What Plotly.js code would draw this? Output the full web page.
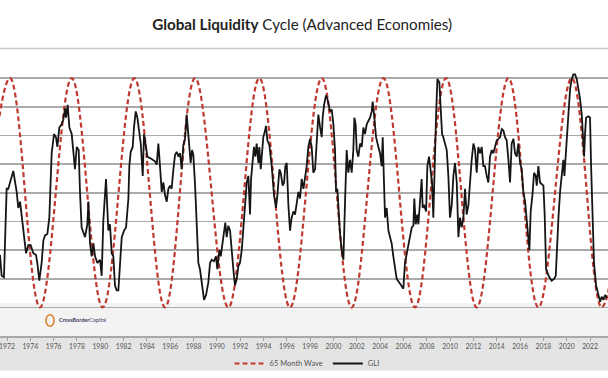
<!DOCTYPE html>
<html>
<head>
<meta charset="utf-8">
<script src="https://cdn.plot.ly/plotly-3.0.1.min.js"></script>
<style>
  html, body { margin: 0; padding: 0; background: #ffffff; }
  #chart { width: 608px; height: 378px; }
</style>
</head>
<body>
<div id="chart"></div>
<script>
// ---- Data ----
const tickYears = [1972,1974,1976,1978,1980,1982,1984,1986,1988,1990,1992,1994,1996,1998,2000,2002,2004,2006,2008,2010,2012,2014,2016,2018,2020,2022];
const tickLabels = tickYears.map(String);

// 65-month wave: turning points (trough / peak)
const waveYears = [1969.58,1972.26,1974.83,1977.55,1980.21,1982.92,1985.55,1988.13,1990.98,1993.64,1996.27,1998.99,2001.56,2004.28,2006.99,2009.65,2012.28,2015.00,2017.57,2020.43,2023.00,2025.70];
const waveValues = [10,90,10,90,10,90,10,90,10,90,10,90,10,90,10,90,10,90,10,90,10,90];

// GLI (Advanced Economies), index
const gliYears = [
1971.40,1971.54,1971.74,1971.97,1972.11,1972.54,1972.83,1972.97,1973.12,1973.26,1973.40,1973.63,1973.83,1974.03,1974.26,1974.49,1974.60,1974.77,1974.97,1975.12,
1975.26,1975.46,1975.63,1975.75,1975.83,1976.03,1976.20,1976.32,1976.49,1976.69,1976.83,1976.98,1977.06,1977.20,1977.35,1977.55,1977.69,1977.83,1977.98,1978.15,
1978.26,1978.40,1978.69,1978.89,1978.98,1979.12,1979.26,1979.41,1979.55,1979.75,1979.98,1980.12,1980.26,1980.49,1980.69,1980.83,1980.98,1981.12,1981.26,1981.41,
1981.55,1981.69,1981.84,1982.04,1982.21,1982.41,1982.49,1982.61,1982.78,1982.89,1983.04,1983.18,1983.35,1983.47,1983.64,1983.75,1983.92,1984.04,1984.27,1984.49,
1984.69,1984.84,1984.98,1985.12,1985.27,1985.41,1985.55,1985.70,1985.84,1985.98,1986.12,1986.27,1986.41,1986.55,1986.70,1986.84,1986.98,1987.12,1987.27,1987.41,
1987.55,1987.64,1987.75,1987.87,1987.98,1988.13,1988.27,1988.41,1988.55,1988.70,1988.84,1988.90,1989.07,1989.27,1989.41,1989.55,1989.75,1989.92,1990.04,1990.21,
1990.33,1990.50,1990.61,1990.72,1990.84,1990.98,1991.13,1991.27,1991.41,1991.55,1991.70,1991.84,1991.98,1992.13,1992.27,1992.41,1992.56,1992.70,1992.84,1992.93,
1993.07,1993.18,1993.30,1993.41,1993.56,1993.64,1993.76,1993.87,1993.98,1994.13,1994.21,1994.33,1994.50,1994.70,1994.90,1995.07,1995.19,1995.36,1995.47,1995.64,
1995.76,1995.87,1995.99,1996.13,1996.27,1996.41,1996.56,1996.70,1996.84,1996.99,1997.13,1997.27,1997.42,1997.56,1997.70,1997.84,1997.99,1998.13,1998.27,1998.42,
1998.56,1998.70,1998.85,1998.99,1999.07,1999.19,1999.36,1999.47,1999.59,1999.70,1999.85,1999.99,2000.13,2000.22,2000.33,2000.45,2000.56,2000.70,2000.85,2000.99,
2001.13,2001.27,2001.42,2001.56,2001.70,2001.79,2001.90,2001.99,2002.13,2002.28,2002.42,2002.56,2002.70,2002.85,2002.99,2003.13,2003.28,2003.36,2003.48,2003.65,
2003.85,2003.99,2004.13,2004.22,2004.33,2004.42,2004.56,2004.71,2004.85,2004.99,2005.13,2005.28,2005.42,2005.71,2005.99,2006.13,2006.28,2006.51,2006.71,2006.85,
2006.93,2007.05,2007.19,2007.28,2007.42,2007.56,2007.65,2007.76,2007.94,2008.05,2008.19,2008.34,2008.45,2008.56,2008.68,2008.79,2008.91,2009.08,2009.19,2009.31,
2009.42,2009.56,2009.71,2009.85,2009.99,2010.14,2010.28,2010.42,2010.57,2010.71,2010.85,2010.99,2011.14,2011.28,2011.42,2011.57,2011.71,2011.85,2012.00,2012.14,
2012.28,2012.42,2012.57,2012.71,2012.85,2012.99,2013.14,2013.28,2013.42,2013.57,2013.71,2013.85,2014.00,2014.14,2014.28,2014.43,2014.57,2014.71,2014.85,2015.00,
2015.14,2015.28,2015.43,2015.57,2015.71,2015.85,2016.00,2016.14,2016.28,2016.43,2016.57,2016.71,2016.80,2016.91,2017.06,2017.20,2017.34,2017.43,2017.57,2017.71,
2017.86,2018.00,2018.11,2018.23,2018.34,2018.51,2018.71,2018.91,2019.06,2019.14,2019.29,2019.43,2019.57,2019.71,2019.80,2019.92,2020.00,2020.14,2020.29,2020.43,
2020.57,2020.71,2020.86,2021.00,2021.14,2021.29,2021.37,2021.49,2021.57,2021.66,2021.86,2022.00,2022.09,2022.23,2022.34,2022.52,2022.71,2022.86,2023.00,2023.15,
2023.29,2023.43];
const gliValues = [
28.3,21.0,20.5,51.4,51.4,57.6,50.3,44.7,46.9,41.3,36.8,28.9,31.7,31.7,28.9,28.3,25.5,19.3,25.5,33.4,
35.1,35.6,41.3,55.9,63.8,70.5,69.4,66.0,72.8,73.9,75.6,79.5,76.2,80.7,72.8,70.5,64.9,58.2,66.0,64.9,
50.3,37.9,34.5,39.0,46.9,32.3,27.8,32.3,27.8,25.5,26.6,21.0,40.2,54.8,36.8,39.0,28.9,27.8,17.6,15.9,
15.9,26.6,34.5,36.8,37.9,48.0,59.3,64.3,66.0,72.8,78.4,76.2,70.5,67.2,55.9,70.5,66.0,62.6,62.1,61.5,
61.0,59.8,67.2,59.3,50.3,53.6,49.2,46.9,51.4,52.5,51.4,58.2,63.2,64.3,62.6,63.8,58.2,66.6,68.8,77.3,
70.5,66.0,60.4,64.9,63.2,52.5,40.2,25.5,23.3,18.8,13.2,12.6,14.3,18.8,25.5,26.6,26.1,27.8,23.3,30.0,
27.8,32.3,36.8,39.6,34.5,38.5,36.8,28.9,23.3,17.6,19.9,24.4,25.5,30.0,39.0,44.7,53.6,55.9,42.4,54.8,
60.4,66.0,62.6,67.2,60.4,66.0,58.2,64.9,69.4,71.7,73.3,68.3,66.6,59.3,49.2,44.7,49.2,58.2,57.0,52.5,
53.6,59.3,60.4,45.8,36.8,41.3,43.5,42.4,45.8,50.3,48.0,54.8,51.4,55.9,59.3,66.0,68.8,66.0,57.0,58.2,
67.2,77.3,72.8,69.4,76.2,80.7,84.0,82.9,80.7,78.4,79.0,73.9,64.9,50.3,51.4,41.3,35.6,30.0,26.6,46.9,
64.9,57.0,61.5,57.0,64.9,76.2,73.9,64.9,62.6,67.2,66.0,72.8,70.5,73.9,75.0,76.2,78.4,81.8,77.3,69.4,
66.0,63.8,59.3,69.4,53.6,41.3,44.7,36.8,34.5,32.3,27.8,23.3,19.9,18.2,16.5,25.5,28.9,34.5,37.9,38.5,
48.0,39.0,42.4,39.0,46.9,54.8,44.7,45.8,43.5,59.3,62.6,57.0,53.6,41.3,63.8,76.2,89.7,88.5,79.5,70.5,
69.4,67.2,64.9,55.9,41.3,45.8,55.9,60.4,53.6,34.5,41.3,37.9,41.3,51.4,42.4,45.8,54.8,61.5,67.2,64.9,
57.0,66.0,63.8,66.0,59.3,59.3,55.9,53.6,62.6,64.9,63.8,66.0,68.3,68.8,69.4,72.2,71.7,69.4,68.3,61.5,
53.6,67.2,68.8,63.8,62.6,67.2,60.4,58.2,50.3,46.9,41.3,33.4,30.0,43.5,49.2,57.0,55.9,52.5,59.3,53.6,
53.1,52.5,42.4,23.3,22.1,20.5,19.3,19.9,21.0,30.0,41.3,50.3,57.0,61.5,55.9,63.8,69.4,76.2,86.3,89.7,
91.3,91.3,89.7,86.3,82.9,77.3,70.5,62.6,70.5,76.2,76.7,76.2,59.3,36.8,25.5,17.6,14.3,12.0,13.7,12.6,
14.3,13.2];

const seriesNames = ['65 Month Wave', 'GLI'];
const titleBold = 'Global Liquidity';
const titleRest = ' Cycle (Advanced Economies)';

// ---- Chart ----
const traces = [
  {
    x: waveYears, y: waveValues, name: seriesNames[0],
    type: 'scatter', mode: 'lines',
    line: { color: '#c0392f', width: 2.2, dash: '5px,3px', shape: 'spline', smoothing: 1.1 },
    hoverinfo: 'skip'
  },
  {
    x: gliYears, y: gliValues, name: seriesNames[1],
    type: 'scatter', mode: 'lines',
    line: { color: '#151515', width: 1.8 },
    hoverinfo: 'skip'
  }
];

const layout = {
  width: 608, height: 378,
  margin: { l: 0, r: 0, t: 61, b: 33 },
  paper_bgcolor: '#ffffff',
  plot_bgcolor: 'rgba(0,0,0,0)',
  font: { family: 'Lato, "Liberation Sans", sans-serif', color: '#555' },
  title: {
    text: '<b>' + titleBold + '</b>' + titleRest,
    font: { family: 'Lato, "Open Sans", sans-serif', size: 15.2, color: '#222' },
    x: 0.497, xanchor: 'center', y: 1 - 25 / 378, yanchor: 'middle'
  },
  showlegend: true,
  legend: {
    orientation: 'h', x: 0.505, xanchor: 'center', y: -0.102, yanchor: 'middle',
    font: { size: 7.5, color: '#555' }, bgcolor: 'rgba(0,0,0,0)',
    itemwidth: 30, tracegroupgap: 0
  },
  xaxis: {
    range: [1971.40, 2023.54], showgrid: false, zeroline: false,
    tickmode: 'array', tickvals: tickYears, ticktext: tickLabels,
    ticks: 'outside', ticklen: 3, tickcolor: '#a0a0a0', tickwidth: 1,
    showline: true, linecolor: '#a8a8a8', linewidth: 1.5,
    ticklabeloverflow: 'allow', ticklabelshift: 1.5,
    tickfont: { size: 6.8, color: '#555' }, fixedrange: true
  },
  yaxis: {
    range: [0, 96], dtick: 10, tick0: 0, showgrid: true,
    gridcolor: '#ababab', gridwidth: 1.6, zeroline: false,
    showticklabels: false, ticks: '', fixedrange: true
  },
  shapes: [
    { type: 'rect', xref: 'paper', yref: 'paper', x0: 0, x1: 1, y0: -0.125, y1: 0, fillcolor: '#e4e4e4', line: { width: 0 }, layer: 'below' },
    { type: 'rect', xref: 'paper', yref: 'paper', x0: 0, x1: 1, y0: 0, y1: 0.12, fillcolor: '#f3f3f3', line: { width: 0 }, layer: 'below' },
    { type: 'line', xref: 'paper', yref: 'paper', x0: 0, x1: 1, y0: 1.0458, y1: 1.0458, line: { color: '#c8c8c8', width: 1.5 } },
    { type: 'circle', xref: 'paper', yref: 'paper', x0: 46/608, x1: 54/608, y0: (345-335)/284, y1: (345-323)/284, line: { color: '#d9822b', width: 1.6 }, fillcolor: 'rgba(0,0,0,0)' }
  ],
  annotations: [
    { text: '<b>CrossBorder</b>Capital', xref: 'paper', yref: 'paper', x: 57/608, y: (345-328)/284, xanchor: 'left', yanchor: 'middle', showarrow: false, font: { size: 5.5, color: '#3a3a5a' } }
  ]
};

Plotly.newPlot('chart', traces, layout, { displayModeBar: false, staticPlot: true });
</script>
</body>
</html>
